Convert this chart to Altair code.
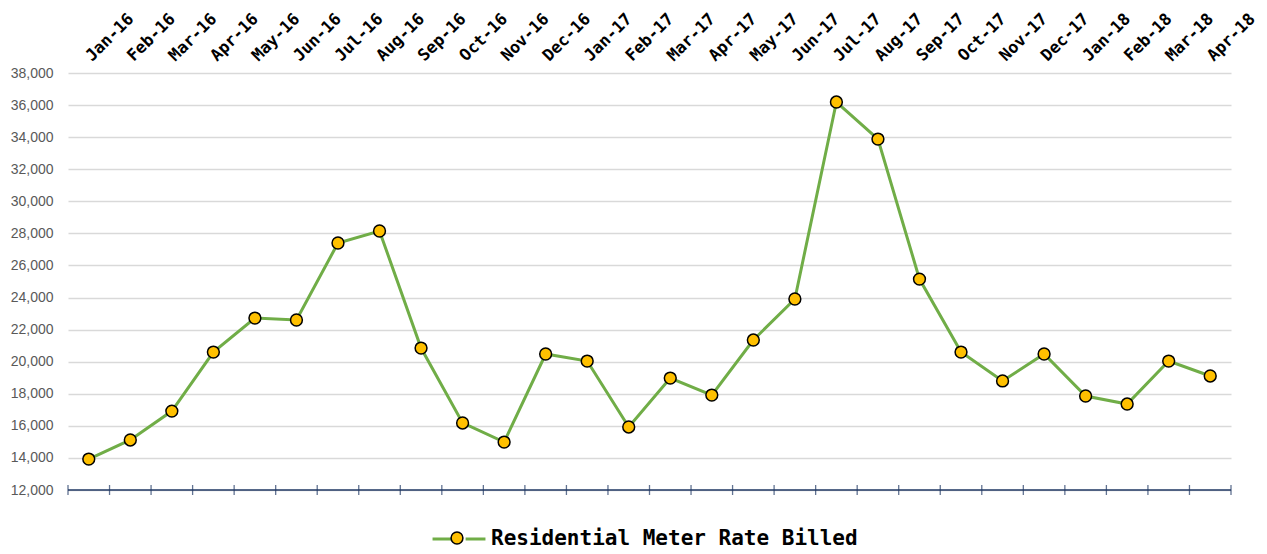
import altair as alt
import pandas as pd

months = ["Jan-16", "Feb-16", "Mar-16", "Apr-16", "May-16", "Jun-16", "Jul-16", "Aug-16",
          "Sep-16", "Oct-16", "Nov-16", "Dec-16", "Jan-17", "Feb-17", "Mar-17", "Apr-17",
          "May-17", "Jun-17", "Jul-17", "Aug-17", "Sep-17", "Oct-17", "Nov-17", "Dec-17",
          "Jan-18", "Feb-18", "Mar-18", "Apr-18"]
values = [13930, 15120, 16920, 20600, 22720, 22600, 27400, 28150,
          20850, 16180, 14990, 20480, 20040, 15930, 18980, 17920,
          21350, 23910, 36190, 33880, 25150, 20600, 18800, 20480,
          17860, 17360, 20040, 19110]
series_name = "Residential Meter Rate Billed"
y_ticks = list(range(12000, 38001, 2000))
y_min, y_max = 12000, 38000

df = pd.DataFrame({"month": months, "value": values, "series": series_name})

xscale = alt.Scale(domain=months, type="band", paddingInner=0, paddingOuter=0)
top_axis = alt.Axis(orient="top", title=None, domain=False, ticks=False, grid=False,
                    labelAngle=-45, labelAlign="left", labelBaseline="middle",
                    labelFont="DejaVu Sans Mono", labelFontWeight="bold", labelFontSize=16.5,
                    labelColor="#000000", labelPadding=15)


def xenc(bp):
    return alt.X("month:N", sort=None, scale=xscale, axis=top_axis, bandPosition=bp)


yaxis = alt.Axis(values=y_ticks, format=",.0f", domain=False, ticks=False, title=None,
                 labelPadding=15, labelFont="Liberation Sans", labelFontSize=14,
                 labelColor="#595959", gridColor="#d9d9d9", gridWidth=1.5)
yscale = alt.Scale(domain=[y_min, y_max], nice=False, zero=False)
yenc = alt.Y("value:Q", scale=yscale, axis=yaxis)
ydatum = alt.Y(datum=y_min, type="quantitative", scale=yscale, axis=yaxis)

base = alt.Chart(df)

line = base.mark_line(strokeWidth=3).encode(
    x=xenc(0.5), y=yenc,
    stroke=alt.Stroke("series:N", scale=alt.Scale(range=["#70AD47"]),
                      legend=alt.Legend(title=None, orient="none", legendX=363, legendY=438,
                                        symbolType="M-1,0H-0.25M0.25,0H1", symbolSize=2800,
                                        symbolStrokeWidth=3, labelLimit=0,
                                        labelFont="DejaVu Sans Mono", labelFontSize=21,
                                        labelFontWeight="bold", labelColor="#000000",
                                        labelOffset=4)),
)

points = base.mark_point(filled=True, size=140, stroke="black", strokeWidth=1.5, opacity=1).encode(
    x=xenc(0.5), y=yenc,
    fill=alt.Fill("series:N", scale=alt.Scale(range=["#FFC000"]),
                  legend=alt.Legend(title=None, orient="none", legendX=382, legendY=458,
                                    symbolType="circle", symbolSize=140,
                                    symbolStrokeColor="black", symbolStrokeWidth=1.5,
                                    labelExpr="''", labelFontSize=2)),
)

ticks = base.mark_tick(orient="vertical", size=10, thickness=1.3, color="#203864").encode(
    x=xenc(0), y=ydatum
)
end_tick = alt.Chart(pd.DataFrame({"month": [months[-1]]})).mark_tick(
    orient="vertical", size=10, thickness=1.3, color="#203864").encode(
    x=xenc(1), y=ydatum
)
baseline = alt.Chart(pd.DataFrame({"value": [y_min]})).mark_rule(color="#203864", strokeWidth=1.3).encode(
    y=yenc
)

chart = alt.layer(baseline, ticks, end_tick, line, points).properties(
    width=1163, height=417,
    padding={"left": 60, "top": 65, "right": 28, "bottom": 62},
    autosize="none",
).configure_view(stroke=None)

chart.save("out.html", embed_options={"renderer": "svg", "actions": False})
